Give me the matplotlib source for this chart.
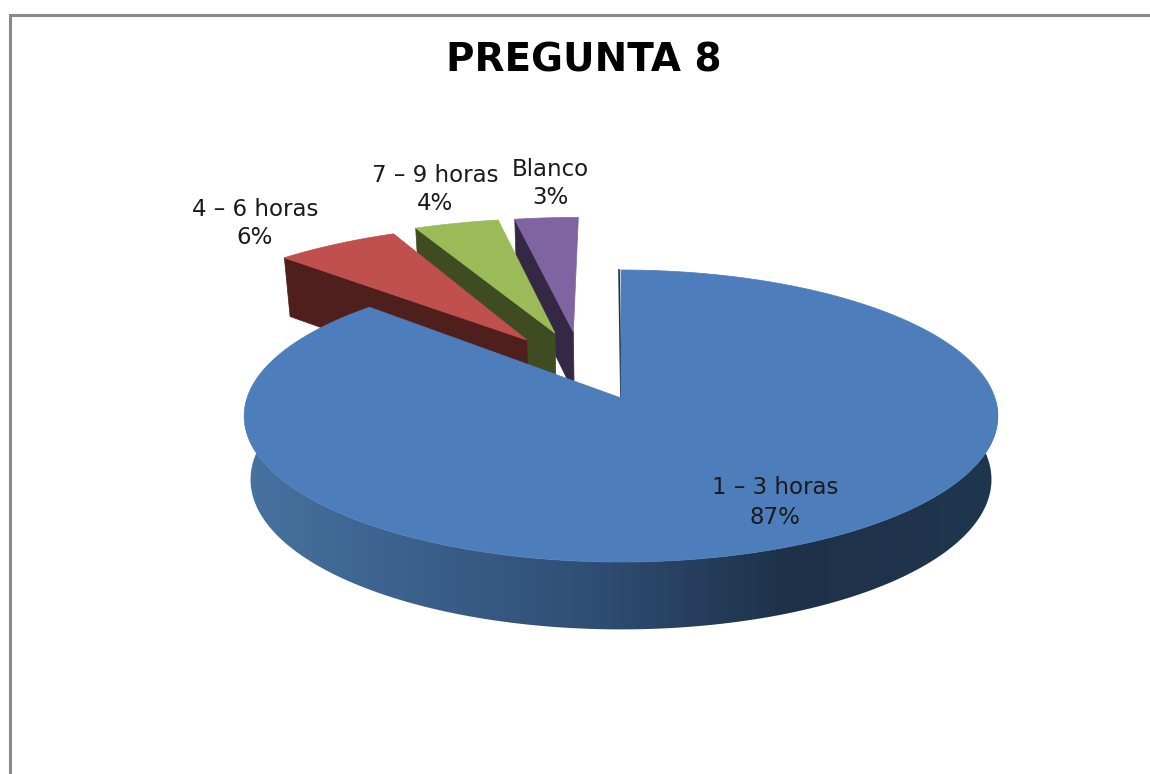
import numpy as np
import matplotlib
matplotlib.use("Agg")
import matplotlib.pyplot as plt
from matplotlib.colors import LinearSegmentedColormap
from matplotlib.patches import Polygon

title = "PREGUNTA 8"
categories = ["1 – 3 horas", "4 – 6 horas", "7 – 9 horas", "Blanco"]
values = [87, 6, 4, 3]

top_colors = ["#4d7ebb", "#c0504d", "#9bbb59", "#8064a2"]
side_colors = ["#1e3148", "#4f1f1d", "#3f4c22", "#352845"]
# how far each slice is pulled out of the pie, in units of the radius
explode_x = [0, -0.265, -0.187, -0.135]
explode_y = [0, 0.424, 0.478, 0.486]
slice_stretch = [1.0, 1.04, 1.07, 1.07]
label_pos = [(775, 488), (255, 209), (435, 175), (550, 169)]

# pie centre on screen and the tilt / perspective of its plane
cx, cy = 621, 398
kx, ky = 374, 143.8
persp = 0.1233
depth = 63
depth_persp = 0.065


def project(X, Y, lower=False):
    # plane coords -> pixels, lower=True gives the bottom face of the pie
    w = 1 + persp * Y
    scale = 0.983 if lower else 1.0
    x = cx + kx * X / w * scale
    y = cy - ky * Y / w
    if lower:
        y = y + depth / (1 + depth_persp * Y)
    return x, y


def arc(a0, a1, dx=0, dy=0, lower=False, stretch=1.0):
    t = np.radians(np.linspace(a0, a1, 200))
    return project(stretch * np.sin(t) + dx, np.cos(t) + dy, lower)


fig = plt.figure(figsize=(11.5, 7.74), dpi=100)
ax = fig.add_axes([0, 0, 1, 1])
ax.set_xlim(0, 1150)
ax.set_ylim(774, 0)
ax.axis("off")

# chart frame, cut off on the right and bottom
ax.plot([10, 10, 1150], [774, 15, 15], color="#8a8a8a", lw=2.2, solid_joinstyle="miter", zorder=1)

ends = np.cumsum(values) / np.sum(values) * 360
starts = np.r_[0, ends[:-1]]

# small slices, back to front
for i in [3, 2, 1]:
    a0, a1 = starts[i], ends[i]
    dx, dy = explode_x[i], explode_y[i]
    sx = slice_stretch[i] * np.sin(np.radians(a0)) + dx
    sy = np.cos(np.radians(a0)) + dy
    ox, oy = project(sx, sy)
    ox2, oy2 = project(sx, sy, lower=True)
    ax0, ay0 = project(dx, dy)
    ax1, ay1 = project(dx, dy, lower=True)
    ax.add_patch(Polygon([(ax0, ay0), (ox, oy), (ox2, oy2), (ax1, ay1)],
                         fc=side_colors[i], ec=side_colors[i], lw=0.5, zorder=2 + 3 - i))
    xs, ys = arc(a0, a1, dx, dy, stretch=slice_stretch[i])
    ax.add_patch(Polygon(np.c_[np.r_[ax0, xs], np.r_[ay0, ys]],
                         fc=top_colors[i], ec=top_colors[i], lw=0.5, zorder=2 + 3 - i))

# rim of the big slice with its left to right shading
xt, yt = arc(60, 300)
xb, yb = arc(60, 300, lower=True)
rim = Polygon(np.c_[np.r_[xt, xb[::-1]], np.r_[yt, yb[::-1]]], fc="none", ec="none", zorder=6)
ax.add_patch(rim)
rim_cmap = LinearSegmentedColormap.from_list(
    "rim", [(0, "#47729f"), (0.2, "#3c628f"), (0.47, "#2f4d72"), (0.72, "#1e3148"), (1, "#20364f")])
grad = ax.imshow(np.linspace(0, 1, 400).reshape(1, -1), cmap=rim_cmap, aspect="auto",
                 extent=[245, 1000, 640, 400], zorder=6)
grad.set_clip_path(rim)
ax.set_xlim(0, 1150)
ax.set_ylim(774, 0)

# cut face of the big slice, almost edge on
bx0, by0 = project(0, 0)
bx1, by1 = project(0, 1)
ax.plot([bx1 - 2, bx0], [by1, by0], color=side_colors[0], lw=1.2, zorder=6)

# top of the big slice
xs, ys = arc(starts[0], ends[0])
ax.add_patch(Polygon(np.c_[np.r_[bx0, xs], np.r_[by0, ys]],
                     fc=top_colors[0], ec=top_colors[0], lw=0.5, zorder=7))

ax.text(584, 60, title, fontsize=28, fontweight="bold", family="DejaVu Sans",
        ha="center", va="center", color="black", zorder=8)
for name, val, (lx, ly) in zip(categories, values, label_pos):
    ax.text(lx, ly, name, fontsize=16.5, family="DejaVu Sans", ha="center", va="center", color="#1a1a1a", zorder=8)
    ax.text(lx, ly + 29, f"{val}%", fontsize=16.5, family="DejaVu Sans", ha="center", va="center", color="#1a1a1a", zorder=8)

fig.savefig("out.png", dpi=100)
